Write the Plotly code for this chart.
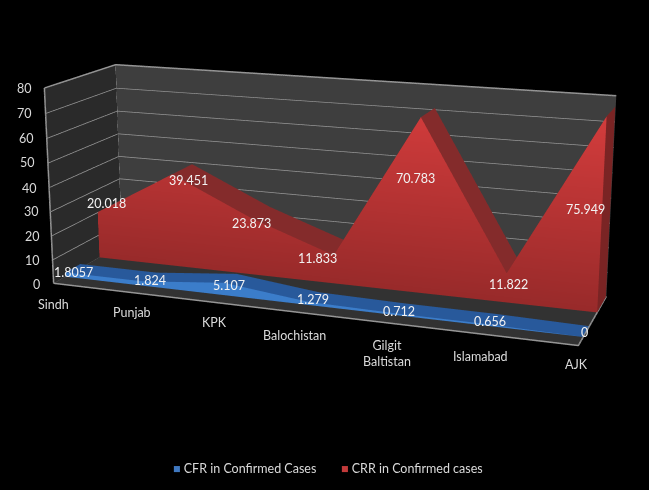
import plotly.graph_objects as go

categories = ["Sindh", "Punjab", "KPK", "Balochistan", "Gilgit<br>Baltistan", "Islamabad", "AJK"]
cfr = [1.8057, 1.824, 5.107, 1.279, 0.712, 0.656, 0]
crr = [20.018, 39.451, 23.873, 11.833, 70.783, 11.822, 75.949]
cfr_labels = ["1.8057", "1.824", "5.107", "1.279", "0.712", "0.656", "0"]
crr_labels = ["20.018", "39.451", "23.873", "11.833", "70.783", "11.822", "75.949"]
z_ticks = [0, 10, 20, 30, 40, 50, 60, 70, 80]

# pixel nudges for the labels, excel puts them a bit off the points
cfr_shift = [(8, 0), (7, 1), (5, -3), (5, 2), (3, 2), (2, 3), (1, 4)]
crr_shift = [(9, 9), (16, -6), (0, -5), (-16, -3), (-5, -61), (2, -11), (-21, -93)]
tick_shift = [(-17, -1), (-20, -1), (-19, -1), (-19, 0), (-20, -1), (-20, 0), (-20, 0), (-21, 0), (-20, 0)]
cat_shift = [(0, -21), (0, -20), (0, -20), (-5, -23), (-2, -30), (-1, -22), (-2, -19)]

# depth of each ribbon inside the box, 0 front wall, 1 back wall
cfr_depth = (0.16, 0.37)
crr_depth = (0.65, 0.98)

# excel's box is not a true plotly perspective, so lean it a bit
ASPECT_Y, ASPECT_Z = 0.1274, 0.3819
LEAN_X, LEAN_Z, LEAN_ZX = 0.082, 0.0662, -0.0859
X_HALF, Z_HALF = 4, 70
last = len(categories) - 1


def place(x, y, z):
    return (x + last * LEAN_X * y,
            y,
            z + 80 * (LEAN_Z * y + LEAN_ZX * (x / last - 0.5)) / ASPECT_Z)


def mesh(points, tris, color=None, scale=None):
    xs, ys, zs = zip(*[place(*p) for p in points])
    kw = dict(color=color)
    if scale:
        kw = dict(intensity=[p[2] for p in points], colorscale=scale, cmin=0, cmax=80, showscale=False)
    return go.Mesh3d(x=xs, y=ys, z=zs,
                     i=[t[0] for t in tris], j=[t[1] for t in tris], k=[t[2] for t in tris],
                     flatshading=True, hoverinfo="skip",
                     lighting=dict(ambient=1, diffuse=0, specular=0, roughness=1, fresnel=0),
                     **kw)


def strip(n):
    tris = []
    for a in range(n - 1):
        tris.append((2 * a, 2 * a + 1, 2 * a + 3))
        tris.append((2 * a, 2 * a + 3, 2 * a + 2))
    return tris


def ribbon(values, depth, scale, top_color, end_color):
    y0, y1 = depth
    n = len(values)
    front = []
    top = []
    for a, v in enumerate(values):
        front += [(a, y0, 0), (a, y0, v)]
        top += [(a, y0, v), (a, y1, v)]
    end = [(last, y0, 0), (last, y0, values[-1]), (last, y1, 0), (last, y1, values[-1])]
    return [mesh(front, strip(n), scale=scale),
            mesh(top, strip(n), color=top_color),
            mesh(end, strip(2), color=end_color)]


def line(points, color, width=3):
    xs, ys, zs = [], [], []
    for p in points:
        if p is None:
            xs.append(None); ys.append(None); zs.append(None)
        else:
            a, b, c = place(*p)
            xs.append(a); ys.append(b); zs.append(c)
    return go.Scatter3d(x=xs, y=ys, z=zs, mode="lines", line=dict(color=color, width=width), hoverinfo="skip")


fig = go.Figure()

# walls
fig.add_trace(mesh([(0, 0, 0), (0, 0, 80), (0, 1, 0), (0, 1, 80)], strip(2), color="#2a2a2a"))
fig.add_trace(mesh([(0, 1, 0), (0, 1, 80), (last, 1, 0), (last, 1, 80)], strip(2), color="#3e3e3e"))
fig.add_trace(mesh([(0, 0, 0), (0, 1, 0), (last, 0, 0), (last, 1, 0)], strip(2), color="#323232"))

grid = []
for t in z_ticks:
    grid += [(0, 0, t), (0, 1, t), (last, 1, t), None]
fig.add_trace(line(grid, "#969696"))
fig.add_trace(line([(0, 0, 0), (0, 0, 80), None, (0, 1, 0), (0, 1, 80), None, (0, 0, 0), (last, 0, 0), (last, 1, 0)], "#969696"))

for tr in ribbon(cfr, cfr_depth, [[0, "#3b7dca"], [1, "#3b7dca"]], "#28599b", "#234e88"):
    fig.add_trace(tr)
for tr in ribbon(crr, crr_depth, [[0, "#982a2a"], [1, "#d63d3d"]], "#842b2b", "#7a2424"):
    fig.add_trace(tr)

notes = []


def note(text, at, shift, color, size=12.5):
    x, y, z = place(*at)
    notes.append(dict(x=x, y=y, z=z, text=text, showarrow=False, xanchor="center", yanchor="middle",
                      xshift=shift[0], yshift=shift[1], font=dict(family="Lato", size=size, color=color)))


for a in range(len(categories)):
    note(cfr_labels[a], (a, cfr_depth[0], cfr[a]), cfr_shift[a], "#f2f2f2")
    note(crr_labels[a], (a, crr_depth[0], crr[a]), crr_shift[a], "#f2f2f2")
    note(categories[a], (a, 0, 0), cat_shift[a], "#d9d9d9")
for a, t in enumerate(z_ticks):
    note(str(t), (0, 0, t), tick_shift[a], "#d9d9d9")

fig.update_layout(
    width=649, height=490, showlegend=False,
    margin=dict(l=0, r=0, t=0, b=0),
    paper_bgcolor="black",
    scene=dict(
        domain=dict(x=[0, 1], y=[0, 1]),
        xaxis=dict(visible=False, range=[last / 2 - X_HALF, last / 2 + X_HALF]),
        yaxis=dict(visible=False, range=[0, 1]),
        zaxis=dict(visible=False, range=[40 - Z_HALF, 40 + Z_HALF]),
        aspectmode="manual",
        aspectratio=dict(x=2 * X_HALF / last, y=ASPECT_Y, z=ASPECT_Z * 2 * Z_HALF / 80),
        camera=dict(eye=dict(x=0.2091, y=-1.1381, z=0.0491),
                    center=dict(x=0.0378, y=0, z=-0.0693),
                    up=dict(x=0, y=0, z=1),
                    projection=dict(type="perspective")),
        bgcolor="black",
        annotations=notes,
    ),
    annotations=[
        dict(text='<span style="color:#3f78c0">■</span> CFR in Confirmed Cases', x=171 / 649, y=1 - 468 / 490,
             xref="paper", yref="paper", xanchor="left", yanchor="middle", showarrow=False,
             font=dict(family="Lato", size=12.5, color="#d9d9d9")),
        dict(text='<span style="color:#c23a3a">■</span> CRR in Confirmed cases', x=339 / 649, y=1 - 468 / 490,
             xref="paper", yref="paper", xanchor="left", yanchor="middle", showarrow=False,
             font=dict(family="Lato", size=12.5, color="#d9d9d9")),
    ],
)

fig.write_html("out.html", config=dict(displayModeBar=False),
               post_script="document.body.style.margin='0';document.body.style.background='black';")
